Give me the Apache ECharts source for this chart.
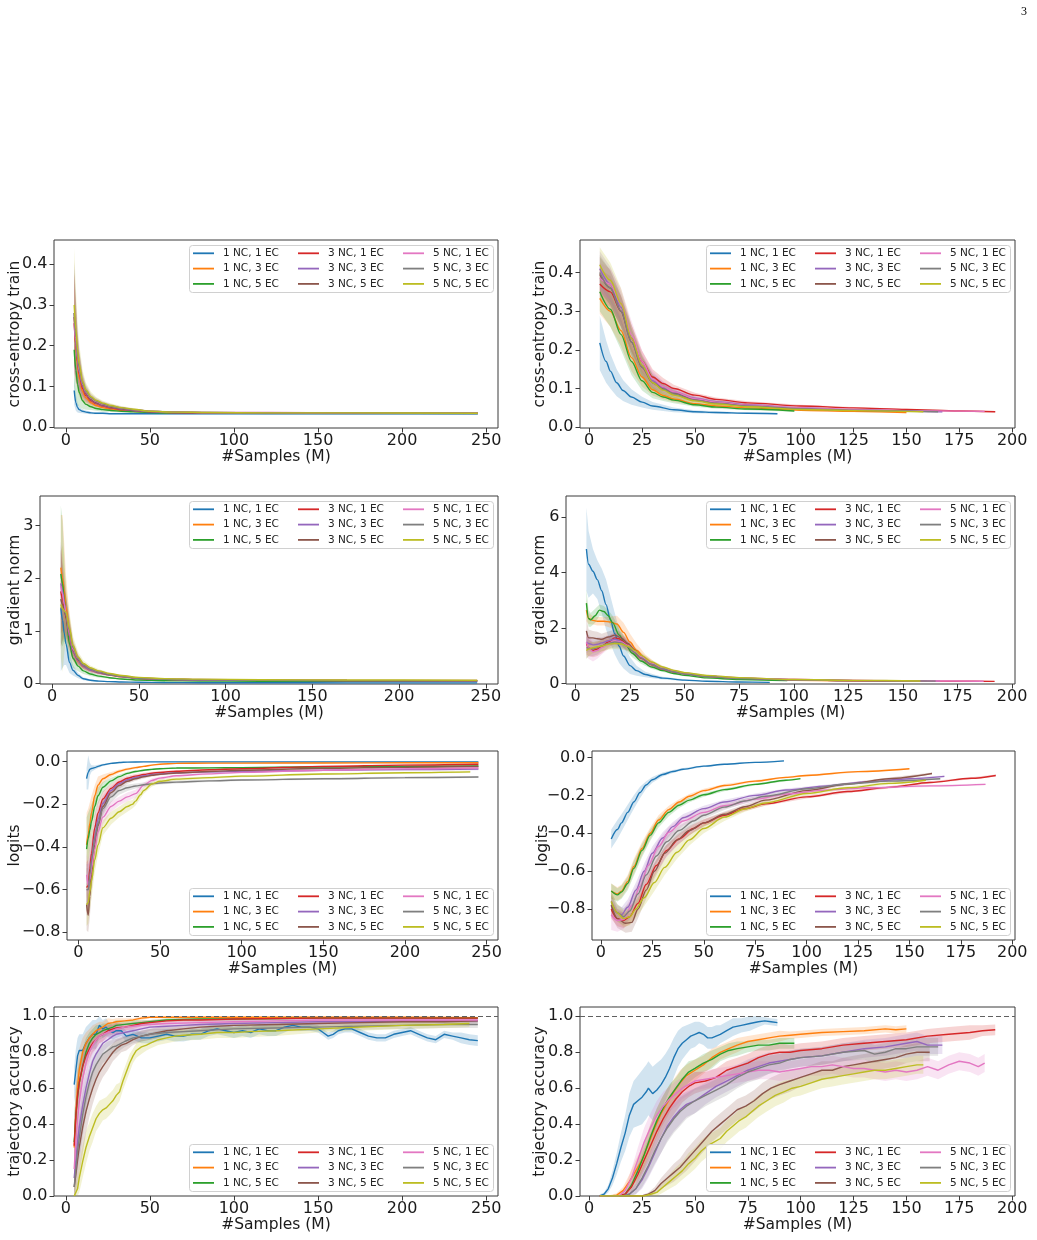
<!DOCTYPE html>
<html><head><meta charset="utf-8">
<script src="https://cdn.jsdelivr.net/npm/echarts@6/dist/echarts.min.js"></script>
<style>html,body{margin:0;padding:0;background:#fff}#c{width:1037px;height:1240px}</style>
</head><body><div id="c"></div>
<script>
const SERIES_NAMES = ['1 NC, 1 EC','1 NC, 3 EC','1 NC, 5 EC','3 NC, 1 EC','3 NC, 3 EC','3 NC, 5 EC','5 NC, 1 EC','5 NC, 3 EC','5 NC, 5 EC'];
const COLORS = ['#1f77b4','#ff7f0e','#2ca02c','#d62728','#9467bd','#8c564b','#e377c2','#7f7f7f','#bcbd22'];
const X_TICKS_L = [0,50,100,150,200,250];
const X_TICKS_R = [0,25,50,75,100,125,150,175,200];
const Y_TICKS_CE = [0,0.1,0.2,0.3,0.4];
const Y_TICKS_GRAD_L = [0,1,2,3];
const Y_TICKS_GRAD_R = [0,2,4,6];
const Y_TICKS_LOGITS = [-0.8,-0.6,-0.4,-0.2,0];
const Y_TICKS_ACC = [0,0.2,0.4,0.6,0.8,1.0];

// ---- left column, shared x grid ----
const X_GRID_L = [5,6,7,8,10,12,15,18,22,27,33,40,50,65,85,120,170,245];

const ceTrainL_mean = [
 [0.090,0.060,0.048,0.043,0.039,0.037,0.035,0.034,0.034,0.033,0.033,0.033,0.033,0.033,0.033,0.033,0.033,0.033],
 [0.270,0.200,0.150,0.120,0.087,0.072,0.060,0.053,0.048,0.044,0.041,0.039,0.037,0.035,0.035,0.034,0.034,0.034],
 [0.190,0.140,0.105,0.085,0.065,0.056,0.050,0.046,0.043,0.041,0.039,0.038,0.036,0.035,0.035,0.034,0.034,0.034],
 [0.255,0.200,0.160,0.130,0.095,0.078,0.065,0.058,0.052,0.047,0.043,0.041,0.038,0.036,0.035,0.035,0.034,0.034],
 [0.270,0.210,0.165,0.135,0.100,0.081,0.067,0.059,0.053,0.048,0.044,0.041,0.038,0.036,0.035,0.035,0.035,0.034],
 [0.280,0.220,0.170,0.140,0.102,0.083,0.068,0.060,0.054,0.049,0.045,0.042,0.038,0.036,0.035,0.035,0.035,0.034],
 [0.255,0.210,0.170,0.140,0.105,0.086,0.071,0.063,0.056,0.051,0.047,0.043,0.039,0.037,0.036,0.036,0.035,0.035],
 [0.280,0.220,0.175,0.145,0.108,0.088,0.072,0.064,0.057,0.051,0.047,0.043,0.039,0.037,0.036,0.035,0.035,0.034],
 [0.300,0.240,0.190,0.155,0.112,0.091,0.075,0.066,0.059,0.053,0.048,0.044,0.039,0.037,0.036,0.035,0.035,0.034]
];
const ceTrainL_sd = [
 [0.035,0.020,0.012,0.008,0.005,0.004,0.003,0.002,0.002,0.001,0.001,0.001,0.001,0.001,0.001,0.001,0.001,0.001],
 [0.110,0.085,0.060,0.045,0.025,0.016,0.010,0.008,0.006,0.005,0.004,0.003,0.002,0.002,0.002,0.002,0.002,0.002],
 [0.090,0.070,0.050,0.035,0.020,0.013,0.008,0.006,0.005,0.004,0.003,0.002,0.002,0.002,0.002,0.002,0.002,0.002],
 [0.120,0.090,0.060,0.045,0.025,0.016,0.010,0.008,0.006,0.005,0.004,0.003,0.002,0.002,0.002,0.002,0.002,0.002],
 [0.120,0.090,0.060,0.045,0.025,0.016,0.010,0.008,0.006,0.005,0.004,0.003,0.002,0.002,0.002,0.002,0.002,0.002],
 [0.130,0.095,0.065,0.045,0.025,0.016,0.010,0.008,0.006,0.005,0.004,0.003,0.002,0.002,0.002,0.002,0.002,0.002],
 [0.120,0.090,0.060,0.045,0.025,0.016,0.010,0.008,0.006,0.005,0.004,0.003,0.002,0.002,0.002,0.002,0.002,0.002],
 [0.120,0.090,0.060,0.045,0.025,0.016,0.010,0.008,0.006,0.005,0.004,0.003,0.002,0.002,0.002,0.002,0.002,0.002],
 [0.140,0.100,0.070,0.050,0.028,0.018,0.011,0.008,0.006,0.005,0.004,0.003,0.002,0.002,0.002,0.002,0.002,0.002]
];

const gradNormL_mean = [
 [1.43,1.20,0.95,0.75,0.40,0.25,0.15,0.09,0.06,0.045,0.035,0.028,0.022,0.018,0.015,0.013,0.012,0.011],
 [2.20,2.00,1.75,1.45,0.95,0.62,0.42,0.32,0.25,0.20,0.16,0.125,0.095,0.075,0.065,0.058,0.052,0.050],
 [2.08,1.90,1.60,1.25,0.75,0.48,0.33,0.24,0.18,0.14,0.11,0.085,0.065,0.052,0.046,0.042,0.040,0.040],
 [1.75,1.60,1.45,1.25,0.90,0.60,0.44,0.33,0.26,0.21,0.17,0.135,0.100,0.080,0.070,0.062,0.056,0.052],
 [1.90,1.75,1.55,1.30,0.90,0.60,0.43,0.32,0.25,0.20,0.16,0.128,0.097,0.077,0.067,0.060,0.054,0.050],
 [1.60,1.50,1.40,1.28,0.95,0.63,0.45,0.34,0.27,0.21,0.17,0.135,0.100,0.080,0.070,0.062,0.056,0.052],
 [1.85,1.70,1.50,1.32,0.95,0.65,0.47,0.35,0.27,0.22,0.18,0.140,0.105,0.085,0.075,0.066,0.060,0.056],
 [1.45,1.42,1.38,1.30,1.00,0.68,0.47,0.35,0.27,0.22,0.17,0.135,0.100,0.080,0.070,0.062,0.056,0.052],
 [1.50,1.42,1.38,1.35,1.05,0.72,0.50,0.38,0.30,0.24,0.19,0.150,0.115,0.092,0.082,0.072,0.066,0.062]
];
const gradNormL_sd = [
 [1.20,0.90,0.60,0.40,0.20,0.10,0.05,0.03,0.02,0.010,0.005,0.004,0.003,0.003,0.003,0.003,0.003,0.003],
 [1.00,1.20,0.90,0.60,0.35,0.20,0.10,0.06,0.04,0.030,0.020,0.015,0.010,0.008,0.006,0.005,0.005,0.005],
 [1.30,1.20,0.80,0.50,0.30,0.18,0.10,0.06,0.04,0.030,0.020,0.012,0.008,0.006,0.005,0.005,0.005,0.005],
 [0.80,0.60,0.45,0.35,0.25,0.15,0.08,0.05,0.04,0.030,0.020,0.015,0.010,0.008,0.006,0.005,0.005,0.005],
 [0.80,0.60,0.45,0.35,0.25,0.15,0.08,0.05,0.04,0.030,0.020,0.015,0.010,0.008,0.006,0.005,0.005,0.005],
 [0.90,0.70,0.50,0.35,0.25,0.15,0.08,0.05,0.04,0.030,0.020,0.015,0.010,0.008,0.006,0.005,0.005,0.005],
 [0.80,0.60,0.45,0.35,0.25,0.15,0.08,0.05,0.04,0.030,0.020,0.015,0.010,0.008,0.006,0.005,0.005,0.005],
 [0.80,0.60,0.45,0.35,0.25,0.15,0.08,0.05,0.04,0.030,0.020,0.015,0.010,0.008,0.006,0.005,0.005,0.005],
 [1.00,1.20,0.80,0.50,0.30,0.18,0.10,0.06,0.04,0.030,0.020,0.015,0.010,0.008,0.006,0.005,0.005,0.005]
];

// ---- [x, mean, sd] per point ----
const ceTrainR = [
 [[5,.218,.07],[8,.17,.055],[10,.145,.045],[13,.115,.035],[16,.095,.027],[20,.078,.02],[25,.065,.014],[30,.055,.01],[40,.045,.006],[50,.04,.004],[60,.038,.003],[75,.036,.002],[89,.035,.002]],
 [[5,.333,.04],[10,.30,.04],[15,.25,.04],[20,.18,.035],[25,.13,.025],[30,.097,.015],[35,.082,.01],[40,.073,.008],[50,.061,.005],[60,.055,.004],[75,.05,.003],[100,.044,.002],[125,.041,.002],[150,.038,.002]],
 [[5,.35,.05],[10,.305,.045],[15,.24,.04],[20,.17,.035],[25,.12,.025],[30,.09,.015],[35,.078,.01],[40,.07,.008],[50,.058,.005],[60,.052,.004],[75,.047,.003],[97,.042,.002]],
 [[5,.37,.04],[10,.35,.04],[15,.30,.04],[20,.23,.035],[25,.17,.028],[30,.13,.02],[35,.113,.014],[40,.10,.01],[50,.083,.006],[60,.072,.005],[75,.063,.004],[100,.055,.003],[125,.05,.002],[150,.046,.002],[175,.042,.002],[192,.04,.002]],
 [[5,.41,.045],[10,.37,.045],[15,.31,.04],[20,.23,.035],[25,.16,.028],[30,.12,.02],[35,.103,.014],[40,.091,.01],[50,.075,.006],[60,.066,.005],[75,.058,.004],[100,.05,.003],[125,.045,.002],[150,.042,.002],[167,.04,.002]],
 [[5,.395,.045],[10,.36,.045],[15,.30,.04],[20,.22,.035],[25,.155,.028],[30,.115,.02],[35,.099,.014],[40,.087,.01],[50,.072,.006],[60,.064,.005],[75,.056,.004],[100,.048,.003],[125,.044,.002],[161,.041,.002]],
 [[5,.385,.04],[10,.37,.04],[15,.32,.04],[20,.24,.035],[25,.17,.028],[30,.125,.02],[35,.105,.014],[40,.092,.01],[50,.074,.006],[60,.065,.005],[75,.057,.004],[100,.05,.003],[125,.046,.002],[150,.043,.002],[187,.041,.002]],
 [[5,.40,.045],[10,.36,.045],[15,.30,.04],[20,.22,.035],[25,.155,.028],[30,.115,.02],[35,.098,.014],[40,.086,.01],[50,.07,.006],[60,.062,.005],[75,.055,.004],[100,.048,.003],[125,.044,.002],[165,.04,.002]],
 [[5,.42,.045],[10,.38,.045],[15,.32,.04],[20,.23,.035],[25,.16,.028],[30,.115,.02],[35,.096,.014],[40,.083,.01],[50,.068,.006],[60,.06,.005],[75,.053,.004],[100,.046,.003],[125,.043,.002],[158,.04,.002]]
];

const gradNormR = [
 [[5,4.85,1.5],[6,4.3,1.2],[8,4.05,0.8],[10,3.75,0.7],[12,3.35,0.8],[14,2.85,0.9],[16,2.3,0.85],[18,1.8,0.75],[20,1.35,0.6],[22,1.0,0.45],[25,0.65,0.3],[28,0.47,0.18],[32,0.33,0.1],[36,0.26,0.07],[40,0.2,0.05],[50,0.13,0.03],[60,0.09,0.02],[75,0.06,0.015],[89,0.05,0.01]],
 [[5,2.65,0.4],[6,2.35,0.2],[8,2.28,0.15],[10,2.25,0.15],[13,2.25,0.15],[16,2.22,0.2],[19,2.15,0.3],[22,1.85,0.35],[25,1.5,0.3],[28,1.2,0.25],[32,0.9,0.15],[36,0.7,0.1],[40,0.56,0.07],[45,0.45,0.05],[50,0.37,0.04],[60,0.26,0.03],[75,0.18,0.02],[100,0.12,0.015],[125,0.1,0.01],[150,0.085,0.01]],
 [[5,2.9,0.5],[6,2.35,0.3],[7,2.3,0.25],[9,2.45,0.25],[11,2.65,0.2],[13,2.6,0.2],[15,2.45,0.2],[17,2.2,0.25],[20,1.75,0.25],[23,1.4,0.2],[26,1.1,0.15],[30,0.82,0.1],[35,0.6,0.07],[40,0.47,0.05],[45,0.37,0.04],[50,0.3,0.03],[60,0.21,0.02],[75,0.15,0.015],[97,0.11,0.01]],
 [[5,1.45,0.4],[6,1.3,0.3],[8,1.2,0.25],[10,1.25,0.25],[12,1.35,0.25],[15,1.5,0.2],[18,1.65,0.2],[20,1.62,0.2],[23,1.45,0.2],[26,1.2,0.15],[30,0.92,0.1],[35,0.68,0.07],[40,0.52,0.05],[45,0.42,0.04],[50,0.36,0.03],[60,0.27,0.02],[75,0.2,0.015],[100,0.15,0.01],[125,0.12,0.01],[150,0.1,0.01],[175,0.09,0.01],[192,0.085,0.01]],
 [[5,1.5,0.4],[6,1.45,0.3],[8,1.4,0.25],[10,1.42,0.25],[12,1.47,0.2],[15,1.55,0.2],[18,1.6,0.2],[21,1.52,0.2],[24,1.35,0.15],[27,1.15,0.12],[30,0.95,0.1],[35,0.7,0.07],[40,0.53,0.05],[45,0.43,0.04],[50,0.36,0.03],[60,0.27,0.02],[75,0.2,0.015],[100,0.14,0.01],[130,0.11,0.01],[167,0.095,0.01]],
 [[5,1.9,0.5],[6,1.65,0.3],[8,1.65,0.25],[10,1.62,0.25],[12,1.6,0.2],[15,1.68,0.2],[18,1.75,0.2],[21,1.65,0.2],[24,1.45,0.15],[27,1.22,0.12],[30,1.0,0.1],[35,0.75,0.07],[40,0.57,0.05],[45,0.45,0.04],[50,0.37,0.03],[60,0.28,0.02],[75,0.2,0.015],[100,0.14,0.01],[130,0.11,0.01],[161,0.095,0.01]],
 [[5,1.5,0.5],[6,1.3,0.4],[8,1.15,0.35],[10,1.2,0.3],[12,1.3,0.25],[15,1.45,0.2],[18,1.55,0.2],[21,1.5,0.2],[24,1.38,0.15],[27,1.18,0.12],[30,0.98,0.1],[35,0.74,0.07],[40,0.57,0.05],[45,0.46,0.04],[50,0.38,0.03],[60,0.29,0.02],[75,0.21,0.015],[100,0.15,0.01],[130,0.12,0.01],[160,0.1,0.01],[187,0.09,0.01]],
 [[5,1.3,0.4],[6,1.28,0.3],[8,1.25,0.25],[10,1.3,0.25],[12,1.37,0.2],[15,1.45,0.2],[18,1.5,0.2],[21,1.47,0.2],[24,1.33,0.15],[27,1.13,0.12],[30,0.93,0.1],[35,0.69,0.07],[40,0.53,0.05],[45,0.43,0.04],[50,0.35,0.03],[60,0.26,0.02],[75,0.19,0.015],[100,0.14,0.01],[130,0.11,0.01],[165,0.095,0.01]],
 [[5,1.2,0.3],[6,1.25,0.25],[8,1.3,0.2],[10,1.33,0.2],[12,1.36,0.2],[15,1.42,0.2],[18,1.45,0.2],[21,1.43,0.2],[24,1.35,0.15],[27,1.2,0.12],[30,1.02,0.1],[35,0.78,0.07],[40,0.6,0.05],[45,0.48,0.04],[50,0.4,0.03],[60,0.3,0.02],[75,0.22,0.015],[100,0.15,0.01],[130,0.12,0.01],[158,0.1,0.01]]
];

const logitsL = [
 [[5,-.08,.05],[6,-.05,.08],[7,-.035,.03],[8,-.032,.015],[10,-.028,.01],[12,-.022,.008],[15,-.015,.005],[20,-.008,.004],[25,-.004,.003],[30,-.002,.002],[40,-.001,.002],[60,-.001,.002],[100,-.001,.002],[150,-.001,.002],[200,-.001,.002],[245,-.001,.002]],
 [[5,-.39,.15],[6,-.34,.12],[7,-.29,.1],[8,-.24,.08],[10,-.16,.05],[12,-.11,.04],[15,-.08,.02],[20,-.06,.012],[25,-.045,.008],[30,-.035,.006],[35,-.028,.005],[40,-.022,.004],[45,-.016,.004],[50,-.012,.003],[60,-.008,.003],[80,-.007,.003],[100,-.007,.003],[150,-.006,.003],[200,-.005,.003],[245,-.005,.003]],
 [[5,-.41,.15],[6,-.36,.12],[7,-.32,.1],[8,-.28,.08],[10,-.21,.05],[12,-.16,.04],[15,-.12,.025],[20,-.09,.015],[25,-.07,.01],[30,-.055,.008],[35,-.046,.006],[40,-.04,.005],[45,-.036,.004],[50,-.033,.004],[60,-.03,.003],[80,-.029,.003],[100,-.028,.003],[150,-.025,.003],[200,-.022,.003],[245,-.02,.003]],
 [[5,-.59,.12],[6,-.58,.12],[7,-.5,.1],[8,-.43,.08],[10,-.31,.06],[12,-.24,.05],[15,-.175,.035],[20,-.125,.02],[25,-.095,.015],[30,-.078,.012],[35,-.068,.01],[40,-.06,.008],[45,-.054,.007],[50,-.05,.006],[60,-.045,.005],[80,-.038,.005],[100,-.033,.005],[150,-.022,.004],[200,-.016,.004],[245,-.012,.004]],
 [[5,-.6,.12],[6,-.6,.12],[7,-.55,.1],[8,-.47,.09],[10,-.35,.07],[12,-.27,.05],[15,-.195,.035],[20,-.135,.02],[25,-.103,.015],[30,-.085,.012],[35,-.074,.01],[40,-.066,.008],[45,-.06,.007],[50,-.057,.006],[60,-.052,.005],[80,-.048,.005],[100,-.045,.005],[150,-.04,.005],[200,-.037,.005],[245,-.035,.005]],
 [[5,-.67,.12],[6,-.72,.08],[7,-.63,.1],[8,-.53,.09],[10,-.39,.07],[12,-.3,.05],[15,-.21,.035],[20,-.145,.02],[25,-.112,.015],[30,-.092,.012],[35,-.08,.01],[40,-.071,.008],[45,-.064,.007],[50,-.059,.006],[60,-.053,.005],[80,-.046,.005],[100,-.04,.005],[150,-.031,.004],[200,-.026,.004],[245,-.023,.004]],
 [[5,-.53,.1],[6,-.58,.1],[7,-.55,.1],[8,-.5,.09],[10,-.41,.07],[12,-.33,.05],[15,-.26,.035],[20,-.21,.025],[25,-.185,.02],[30,-.165,.02],[35,-.15,.018],[40,-.11,.012],[45,-.088,.01],[50,-.077,.008],[60,-.066,.006],[80,-.057,.005],[100,-.05,.005],[150,-.04,.004],[200,-.034,.004],[245,-.03,.004]],
 [[5,-.6,.1],[6,-.6,.1],[7,-.53,.09],[8,-.46,.08],[10,-.36,.06],[12,-.29,.05],[15,-.22,.035],[20,-.165,.025],[25,-.135,.02],[30,-.122,.015],[35,-.114,.012],[40,-.108,.01],[45,-.104,.008],[50,-.1,.007],[60,-.096,.006],[80,-.09,.005],[100,-.086,.005],[150,-.08,.005],[200,-.075,.005],[245,-.072,.005]],
 [[5,-.67,.1],[6,-.66,.1],[7,-.61,.09],[8,-.56,.08],[10,-.46,.06],[12,-.39,.05],[15,-.31,.035],[20,-.265,.03],[25,-.235,.025],[30,-.21,.025],[33,-.2,.02],[35,-.185,.02],[38,-.155,.018],[40,-.135,.015],[45,-.105,.012],[50,-.092,.01],[60,-.082,.008],[80,-.075,.006],[100,-.068,.005],[150,-.058,.005],[200,-.052,.005],[240,-.048,.005]]
];

const logitsR = [
 [[5,-.43,.05],[8,-.38,.05],[10,-.345,.045],[13,-.29,.04],[16,-.235,.035],[19,-.185,.03],[22,-.145,.02],[25,-.118,.015],[30,-.09,.01],[35,-.074,.008],[40,-.062,.006],[50,-.046,.005],[60,-.036,.004],[75,-.026,.003],[89,-.018,.003]],
 [[5,-.705,.04],[8,-.72,.035],[10,-.705,.035],[13,-.655,.035],[16,-.575,.04],[20,-.48,.035],[24,-.4,.03],[28,-.33,.025],[33,-.275,.02],[38,-.235,.015],[43,-.205,.012],[50,-.175,.01],[60,-.148,.008],[75,-.125,.006],[90,-.105,.005],[100,-.095,.005],[125,-.075,.004],[150,-.06,.004]],
 [[5,-.705,.04],[8,-.725,.035],[10,-.71,.035],[13,-.665,.035],[16,-.585,.04],[20,-.49,.035],[24,-.41,.03],[28,-.345,.025],[33,-.29,.02],[38,-.252,.015],[43,-.225,.012],[50,-.197,.01],[60,-.17,.008],[75,-.142,.006],[90,-.12,.005],[97,-.112,.005]],
 [[5,-.8,.05],[8,-.85,.04],[11,-.86,.04],[14,-.84,.04],[18,-.77,.04],[22,-.67,.04],[27,-.57,.035],[32,-.49,.03],[38,-.43,.025],[45,-.375,.02],[50,-.345,.018],[60,-.305,.015],[70,-.27,.012],[80,-.245,.01],[100,-.208,.008],[120,-.18,.007],[140,-.158,.006],[160,-.132,.006],[180,-.11,.005],[192,-.095,.005]],
 [[5,-.78,.05],[8,-.82,.04],[10,-.83,.04],[13,-.79,.04],[17,-.7,.04],[21,-.6,.04],[25,-.505,.035],[30,-.425,.03],[35,-.365,.025],[40,-.318,.02],[50,-.27,.015],[60,-.235,.012],[75,-.2,.01],[90,-.172,.008],[110,-.15,.007],[130,-.128,.006],[150,-.112,.006],[167,-.1,.005]],
 [[5,-.78,.06],[8,-.85,.05],[12,-.875,.05],[15,-.87,.05],[18,-.8,.05],[22,-.7,.045],[26,-.6,.04],[31,-.505,.035],[37,-.435,.03],[43,-.385,.025],[50,-.345,.02],[60,-.3,.015],[70,-.26,.012],[80,-.225,.01],[100,-.175,.008],[120,-.14,.007],[140,-.112,.006],[161,-.085,.005]],
 [[5,-.83,.08],[8,-.86,.06],[11,-.855,.05],[15,-.78,.05],[19,-.68,.045],[23,-.57,.04],[28,-.47,.035],[33,-.395,.03],[40,-.335,.025],[50,-.29,.02],[60,-.255,.015],[75,-.22,.012],[90,-.193,.01],[110,-.172,.008],[130,-.16,.007],[160,-.15,.006],[187,-.142,.005]],
 [[5,-.76,.05],[8,-.82,.045],[11,-.84,.045],[14,-.81,.045],[18,-.72,.045],[22,-.62,.04],[27,-.52,.035],[32,-.445,.03],[38,-.385,.025],[45,-.335,.02],[50,-.305,.018],[60,-.262,.015],[70,-.23,.012],[80,-.205,.01],[100,-.165,.008],[120,-.14,.007],[140,-.125,.006],[165,-.112,.005]],
 [[5,-.76,.05],[8,-.82,.045],[11,-.85,.045],[14,-.84,.045],[17,-.8,.045],[21,-.74,.045],[26,-.66,.045],[31,-.58,.04],[37,-.5,.035],[43,-.435,.03],[50,-.375,.025],[60,-.315,.02],[70,-.272,.015],[80,-.24,.012],[100,-.19,.01],[120,-.16,.008],[140,-.137,.007],[158,-.12,.006]]
];

const accL = [
 [[5,.62,.1],[6,.7,.12],[7,.78,.1],[8,.81,.09],[10,.81,.09],[12,.85,.09],[14,.88,.08],[16,.9,.08],[18,.9,.08],[20,.95,.05],[22,.93,.05],[24,.94,.05],[26,.92,.04],[28,.91,.04],[30,.92,.04],[33,.92,.03],[36,.89,.03],[40,.9,.03],[45,.88,.03],[50,.88,.03],[55,.89,.03],[60,.9,.03],[65,.89,.03],[70,.89,.03],[75,.9,.03],[80,.9,.03],[85,.92,.03],[90,.93,.03],[95,.92,.03],[100,.91,.03],[105,.92,.03],[110,.91,.03],[115,.93,.03],[120,.92,.03],[125,.92,.03],[130,.94,.03],[135,.95,.02],[140,.94,.02],[145,.94,.02],[150,.93,.02],[153,.91,.02],[156,.89,.02],[159,.9,.02],[162,.92,.02],[166,.93,.02],[170,.93,.02],[175,.91,.02],[180,.89,.02],[185,.88,.02],[190,.88,.02],[195,.9,.02],[200,.91,.02],[205,.92,.02],[210,.9,.02],[215,.88,.02],[220,.87,.02],[225,.9,.02],[230,.89,.02],[235,.88,.03],[240,.87,.03],[245,.865,.03]],
 [[5,.27,.1],[6,.45,.15],[7,.6,.15],[8,.7,.12],[10,.8,.08],[12,.85,.06],[14,.88,.05],[16,.9,.05],[18,.92,.04],[20,.93,.04],[22,.94,.03],[25,.96,.03],[28,.965,.02],[30,.97,.02],[35,.975,.015],[40,.98,.01],[45,.99,.01],[50,.995,.005],[60,.995,.005],[80,.995,.005],[100,.995,.005],[150,.995,.005],[200,.995,.005],[245,.993,.005]],
 [[5,.3,.15],[6,.45,.15],[7,.55,.15],[8,.63,.12],[10,.72,.1],[12,.8,.08],[14,.85,.06],[16,.88,.05],[18,.9,.05],[20,.91,.04],[22,.92,.04],[25,.93,.03],[28,.94,.03],[30,.95,.03],[35,.955,.02],[40,.96,.02],[45,.965,.015],[50,.97,.01],[60,.98,.01],[80,.985,.01],[100,.985,.01],[150,.99,.005],[200,.99,.005],[245,.99,.005]],
 [[5,.28,.15],[6,.45,.15],[7,.56,.12],[8,.63,.1],[10,.72,.08],[12,.78,.07],[14,.82,.06],[16,.85,.05],[18,.87,.05],[20,.89,.04],[22,.9,.04],[25,.92,.03],[28,.93,.03],[30,.935,.03],[35,.94,.02],[40,.95,.02],[45,.96,.015],[50,.965,.015],[60,.975,.01],[70,.98,.01],[80,.98,.01],[100,.985,.01],[150,.99,.005],[200,.99,.005],[245,.99,.005]],
 [[5,.1,.1],[6,.2,.12],[7,.3,.13],[8,.38,.13],[10,.5,.12],[12,.6,.1],[14,.68,.09],[16,.75,.08],[18,.79,.07],[20,.82,.06],[22,.85,.05],[25,.87,.04],[28,.89,.04],[30,.9,.04],[35,.91,.03],[40,.92,.03],[45,.93,.03],[50,.94,.02],[60,.945,.02],[70,.95,.02],[80,.955,.02],[100,.96,.015],[125,.965,.015],[150,.97,.015],[175,.97,.015],[200,.975,.01],[225,.975,.01],[245,.975,.01]],
 [[5,.05,.1],[6,.12,.15],[7,.2,.15],[8,.27,.15],[10,.38,.15],[12,.47,.12],[14,.54,.1],[16,.6,.09],[18,.65,.08],[20,.69,.07],[22,.72,.06],[25,.76,.06],[28,.8,.05],[30,.82,.05],[33,.84,.04],[36,.85,.04],[40,.87,.03],[45,.89,.03],[50,.9,.03],[55,.91,.03],[60,.92,.02],[70,.93,.02],[80,.94,.02],[100,.95,.02],[125,.955,.02],[150,.96,.02],[175,.965,.02],[200,.97,.015],[225,.97,.015],[245,.975,.015]],
 [[5,.15,.15],[6,.3,.15],[7,.42,.14],[8,.52,.12],[10,.65,.1],[12,.74,.08],[14,.8,.06],[16,.84,.05],[18,.87,.05],[20,.89,.04],[22,.9,.04],[25,.91,.03],[28,.92,.03],[30,.93,.03],[35,.94,.02],[40,.945,.02],[50,.955,.02],[60,.96,.015],[80,.965,.015],[100,.97,.01],[125,.975,.01],[150,.98,.01],[200,.98,.01],[245,.98,.01]],
 [[5,.05,.1],[6,.15,.12],[7,.25,.13],[8,.32,.13],[10,.45,.12],[12,.55,.1],[14,.63,.09],[16,.69,.08],[18,.73,.07],[20,.76,.06],[22,.79,.05],[25,.81,.05],[28,.83,.04],[30,.835,.04],[35,.86,.03],[40,.88,.03],[45,.89,.03],[50,.9,.03],[60,.91,.02],[70,.915,.02],[80,.92,.02],[100,.93,.02],[125,.935,.02],[150,.94,.02],[175,.945,.02],[200,.95,.02],[225,.955,.02],[245,.955,.02]],
 [[5,0,.05],[6,.01,.06],[7,.04,.07],[8,.1,.08],[10,.19,.09],[12,.27,.09],[14,.33,.08],[16,.38,.08],[18,.43,.07],[20,.46,.07],[22,.48,.06],[24,.49,.06],[26,.51,.06],[28,.53,.06],[30,.56,.06],[32,.58,.05],[34,.64,.05],[36,.69,.05],[38,.74,.05],[40,.78,.04],[42,.81,.04],[45,.83,.04],[48,.84,.03],[50,.85,.03],[55,.87,.03],[60,.88,.03],[65,.89,.03],[70,.895,.03],[80,.9,.03],[90,.91,.03],[100,.91,.03],[110,.915,.03],[125,.92,.03],[150,.93,.02],[175,.94,.02],[200,.95,.02],[225,.955,.02],[240,.96,.02]]
];

const accR = [
 [[5,0,.01],[7,.01,.01],[9,.04,.02],[11,.1,.04],[13,.18,.06],[15,.27,.08],[17,.35,.1],[19,.45,.12],[21,.51,.13],[23,.53,.14],[25,.55,.15],[27,.58,.15],[28,.6,.15],[30,.57,.15],[32,.59,.15],[34,.62,.14],[36,.66,.13],[38,.71,.12],[40,.77,.11],[42,.82,.1],[44,.85,.09],[46,.87,.08],[48,.89,.07],[50,.9,.07],[52,.91,.06],[54,.9,.06],[56,.88,.06],[58,.88,.06],[60,.89,.06],[62,.9,.05],[65,.92,.05],[68,.94,.05],[72,.95,.04],[76,.96,.04],[80,.97,.03],[83,.975,.02],[86,.97,.02],[89,.965,.02]],
 [[5,0,0],[10,0,.005],[13,.005,.01],[16,.03,.02],[19,.08,.04],[22,.14,.06],[25,.2,.07],[28,.29,.08],[31,.38,.08],[34,.46,.08],[37,.52,.08],[40,.58,.07],[43,.63,.07],[46,.67,.06],[50,.7,.06],[54,.73,.05],[58,.77,.05],[62,.8,.04],[66,.82,.04],[70,.84,.04],[75,.86,.03],[80,.87,.03],[85,.88,.03],[90,.89,.03],[95,.895,.02],[100,.9,.02],[110,.91,.02],[120,.915,.02],[130,.92,.02],[140,.93,.02],[145,.925,.02],[150,.93,.02]],
 [[5,0,0],[14,0,.005],[17,.01,.01],[20,.06,.03],[23,.14,.05],[26,.23,.06],[29,.33,.07],[32,.42,.07],[35,.49,.07],[38,.55,.07],[41,.6,.06],[44,.65,.06],[47,.69,.06],[50,.71,.05],[54,.74,.05],[58,.76,.05],[62,.79,.04],[66,.81,.04],[70,.82,.04],[75,.83,.03],[80,.84,.03],[85,.84,.03],[90,.85,.03],[97,.85,.03]],
 [[5,0,0],[14,0,.005],[17,.01,.01],[20,.05,.03],[23,.12,.05],[26,.2,.06],[29,.28,.07],[32,.36,.07],[35,.43,.07],[38,.49,.07],[41,.54,.07],[44,.58,.06],[47,.61,.06],[50,.63,.06],[55,.64,.05],[60,.66,.05],[65,.7,.05],[70,.72,.05],[75,.74,.05],[80,.77,.05],[85,.79,.05],[90,.8,.05],[95,.8,.04],[100,.81,.04],[110,.82,.04],[120,.84,.04],[130,.85,.04],[140,.86,.04],[150,.87,.04],[160,.89,.04],[170,.9,.04],[180,.91,.04],[186,.92,.03],[192,.925,.03]],
 [[5,0,0],[16,0,.005],[19,.01,.01],[22,.04,.03],[25,.09,.05],[28,.16,.06],[31,.24,.07],[34,.32,.08],[37,.39,.08],[40,.44,.08],[43,.48,.08],[46,.51,.07],[50,.53,.07],[55,.57,.06],[60,.61,.06],[65,.64,.06],[70,.67,.06],[75,.7,.06],[80,.72,.06],[85,.74,.06],[90,.75,.05],[95,.76,.05],[100,.77,.05],[110,.78,.05],[120,.8,.05],[130,.82,.05],[140,.83,.05],[150,.85,.05],[155,.86,.05],[160,.84,.05],[167,.84,.05]],
 [[5,0,0],[25,0,.005],[28,.01,.01],[31,.03,.02],[34,.07,.03],[37,.1,.04],[40,.13,.05],[43,.16,.05],[46,.2,.06],[49,.24,.06],[52,.28,.06],[55,.32,.06],[58,.36,.06],[62,.4,.06],[66,.44,.06],[70,.48,.06],[74,.5,.06],[78,.53,.06],[82,.57,.06],[86,.6,.06],[90,.62,.06],[95,.64,.06],[100,.66,.05],[105,.68,.05],[110,.7,.05],[115,.7,.05],[120,.72,.05],[125,.73,.05],[130,.74,.05],[135,.75,.05],[140,.76,.05],[145,.77,.05],[150,.79,.05],[155,.8,.05],[161,.8,.05]],
 [[5,0,0],[14,0,.005],[17,.03,.02],[20,.1,.05],[23,.2,.07],[26,.3,.08],[29,.38,.08],[32,.45,.08],[35,.5,.08],[38,.54,.07],[41,.57,.07],[44,.6,.06],[47,.62,.06],[50,.64,.05],[55,.65,.05],[60,.66,.05],[65,.67,.05],[70,.68,.05],[75,.69,.05],[80,.7,.05],[85,.7,.05],[90,.69,.05],[95,.7,.05],[100,.71,.05],[105,.72,.05],[110,.72,.05],[115,.73,.05],[120,.72,.05],[125,.71,.05],[130,.71,.05],[135,.7,.05],[140,.69,.05],[145,.7,.05],[150,.69,.05],[155,.7,.05],[160,.72,.05],[165,.7,.05],[170,.73,.05],[175,.75,.05],[180,.74,.05],[184,.72,.05],[187,.74,.05]],
 [[5,0,0],[16,0,.005],[19,.01,.01],[22,.04,.03],[25,.1,.05],[28,.17,.06],[31,.25,.07],[34,.32,.08],[37,.38,.08],[40,.43,.08],[43,.47,.08],[46,.5,.07],[50,.53,.07],[55,.56,.06],[60,.59,.06],[65,.62,.06],[70,.66,.06],[75,.69,.06],[80,.71,.06],[85,.73,.05],[90,.74,.05],[95,.76,.05],[100,.77,.05],[110,.78,.05],[120,.8,.05],[130,.81,.05],[135,.79,.05],[140,.8,.05],[145,.82,.05],[150,.82,.05],[155,.83,.05],[160,.83,.05],[165,.83,.05]],
 [[5,0,0],[26,0,.005],[29,.01,.01],[32,.02,.02],[35,.05,.03],[38,.08,.04],[41,.11,.05],[44,.14,.05],[47,.18,.06],[50,.21,.06],[53,.25,.06],[56,.28,.06],[59,.3,.06],[62,.32,.06],[65,.36,.06],[68,.39,.06],[71,.42,.06],[74,.44,.06],[77,.47,.06],[80,.5,.06],[84,.53,.06],[88,.56,.06],[92,.58,.06],[96,.6,.05],[100,.61,.05],[105,.63,.05],[110,.65,.05],[115,.66,.05],[120,.67,.05],[125,.68,.05],[130,.69,.05],[135,.7,.05],[140,.7,.05],[145,.71,.05],[150,.72,.05],[155,.73,.05],[158,.73,.05]]
];

// ---- build ----
function zip3(xs, means, sds) {
  return means.map((m, k) => xs.map((x, i) => [x, m[i], sds[k][i]]));
}
const ceTrainL = zip3(X_GRID_L, ceTrainL_mean, ceTrainL_sd);
const gradNormL = zip3(X_GRID_L, gradNormL_mean, gradNormL_sd);

const PANELS = [
  {data: ceTrainL,  grid:[54,240,444,188],  side:'L', ylabel:'cross-entropy train', ylim:[-0.002,0.459], yticks:Y_TICKS_CE, dec:1, nameGap:31, leg:'top', smooth:true},
  {data: ceTrainR,  grid:[580,240,435,188], side:'R', ylabel:'cross-entropy train', ylim:[-0.002,0.484], yticks:Y_TICKS_CE, dec:1, nameGap:32, leg:'top', smooth:true},
  {data: gradNormL, grid:[40,496,458,188],  side:'L', ylabel:'gradient norm', ylim:[-0.01,3.56], yticks:Y_TICKS_GRAD_L, dec:0, nameGap:17, leg:'top', smooth:true},
  {data: gradNormR, grid:[566,496,449,188], side:'R', ylabel:'gradient norm', ylim:[-0.01,6.76], yticks:Y_TICKS_GRAD_R, dec:0, nameGap:18, leg:'top', smooth:true},
  {data: logitsL,   grid:[67,751,431,189],  side:'L', ylabel:'logits', ylim:[-0.836,0.05], yticks:Y_TICKS_LOGITS, dec:1, nameGap:44, leg:'bottom', smooth:true},
  {data: logitsR,   grid:[592,751,423,189], side:'R', ylabel:'logits', ylim:[-0.963,0.034], yticks:Y_TICKS_LOGITS, dec:1, nameGap:41, leg:'bottom', smooth:true},
  {data: accL,      grid:[54,1007,444,189], side:'L', ylabel:'trajectory accuracy', ylim:[0,1.052], yticks:Y_TICKS_ACC, dec:1, nameGap:31, leg:'bottom', smooth:false, hline:1, clamp:true},
  {data: accR,      grid:[580,1007,435,189],side:'R', ylabel:'trajectory accuracy', ylim:[0,1.052], yticks:Y_TICKS_ACC, dec:1, nameGap:32, leg:'bottom', smooth:false, hline:1, clamp:true}
];

const FONT = 'DejaVu Sans';
function fmt(v, d) {
  const s = Math.abs(v) < 1e-9 ? (0).toFixed(d) : v.toFixed(d);
  return s.replace('-', '\u2212');
}

const grids = [], xAxes = [], yAxes = [], series = [], legends = [], graphics = [];
PANELS.forEach((p, gi) => {
  const [gl, gt, gw, gh] = p.grid;
  grids.push({left: gl, top: gt, width: gw, height: gh, show: true, borderColor: '#3a3a3a', borderWidth: 1,
              backgroundColor: 'transparent', containLabel: false, outerBoundsMode: 'none'});
  const xt = p.side === 'L' ? X_TICKS_L : X_TICKS_R;
  xAxes.push({
    gridIndex: gi, type: 'value', position: 'bottom',
    min: p.side === 'L' ? -7 : -4.35, max: p.side === 'L' ? 257 : 201.35,
    axisLine: {show: false, onZero: false}, splitLine: {show: false},
    axisTick: {show: true, length: 4.5, lineStyle: {color: '#3a3a3a', width: 1}, customValues: xt},
    axisLabel: {customValues: xt, margin: 5, fontSize: 16, color: '#1a1a1a', fontFamily: FONT, formatter: v => String(v)},
    name: '#Samples (M)', nameLocation: 'middle', nameGap: 21, nameMoveOverlap: false,
    nameTextStyle: {fontSize: 15.5, color: '#1a1a1a', fontFamily: FONT}
  });
  yAxes.push({
    gridIndex: gi, type: 'value', position: 'left', min: p.ylim[0], max: p.ylim[1],
    axisLine: {show: false, onZero: false}, splitLine: {show: false},
    axisTick: {show: true, length: 4.5, lineStyle: {color: '#3a3a3a', width: 1}, customValues: p.yticks},
    axisLabel: {customValues: p.yticks, margin: 6.5, fontSize: 16, color: '#1a1a1a', fontFamily: FONT, formatter: v => fmt(v, p.dec)},
    name: p.ylabel, nameLocation: 'middle', nameGap: p.nameGap, nameRotate: 90, nameMoveOverlap: false,
    nameTextStyle: {fontSize: 15.5, color: '#1a1a1a', fontFamily: FONT}
  });

  p.data.forEach((pts, si) => {
    const color = COLORS[si];
    const lo = pts.map(q => [q[0], p.clamp ? Math.max(0, q[1] - q[2]) : q[1] - q[2]]);
    const hi = pts.map(q => [q[0], p.clamp ? Math.min(1, q[1] + q[2]) : q[1] + q[2]]);
    series.push({
      type: 'custom', name: 'band ' + si + '-' + gi, xAxisIndex: gi, yAxisIndex: gi, silent: true, clip: true,
      data: [[pts[0][0], pts[0][1]]], z: 2,
      renderItem: (params, api) => {
        const up = hi.map(v => api.coord(v));
        const dn = lo.slice().reverse().map(v => api.coord(v));
        return {type: 'polygon', shape: {points: up.concat(dn)}, style: {fill: color, opacity: 0.2}};
      }
    });
    const line = {
      type: 'line', name: SERIES_NAMES[si], xAxisIndex: gi, yAxisIndex: gi,
      data: pts.map(q => [q[0], q[1]]), showSymbol: false, symbol: 'none', silent: true,
      smooth: p.smooth ? 0.3 : false, smoothMonotone: p.smooth ? 'x' : undefined,
      lineStyle: {color: color, width: 1.4}, itemStyle: {color: color}, z: 2, animation: false
    };
    if (p.hline !== undefined && si === 0) {
      line.markLine = {silent: true, symbol: 'none', label: {show: false}, animation: false,
        lineStyle: {type: [5, 3], color: '#606060', width: 1}, data: [{yAxis: p.hline}]};
    }
    series.push(line);
  });

  // legend box like matplotlib (3 columns, filled column-wise)
  const bw = 304, bh = 47;
  const bl = gl + gw - 5 - bw;
  const bt = p.leg === 'top' ? gt + 5 : gt + gh - 5 - bh;
  graphics.push({type: 'rect', left: bl, top: bt, z: 50, silent: true,
    shape: {width: bw, height: bh, r: 3},
    style: {fill: 'rgba(255,255,255,0.8)', stroke: '#d0d0d0', lineWidth: 1}});
  for (let c = 0; c < 3; c++) {
    legends.push({
      orient: 'vertical', left: bl + 4 + c * 105, top: bt + 1.8, padding: 0, itemGap: 2.3,
      itemWidth: 21, itemHeight: 1.8, icon: 'rect', selectedMode: false, z: 60,
      data: [0, 1, 2].map(r => ({name: SERIES_NAMES[c * 3 + r], itemStyle: {color: COLORS[c * 3 + r]}})),
      textStyle: {fontSize: 10.5, fontFamily: FONT, color: '#222', lineHeight: 13, padding: [0, 0, 0, 4]}
    });
  }
});

graphics.push({type: 'text', left: 1021, top: 6, silent: true,
  style: {text: '3', font: '12px "Liberation Serif"', fill: '#000'}});

const chart = echarts.init(document.getElementById('c'), null, {renderer: 'canvas'});
chart.setOption({
  animation: false, backgroundColor: '#fff',
  grid: grids, xAxis: xAxes, yAxis: yAxes, series: series, legend: legends, graphic: graphics
});
</script></body></html>
